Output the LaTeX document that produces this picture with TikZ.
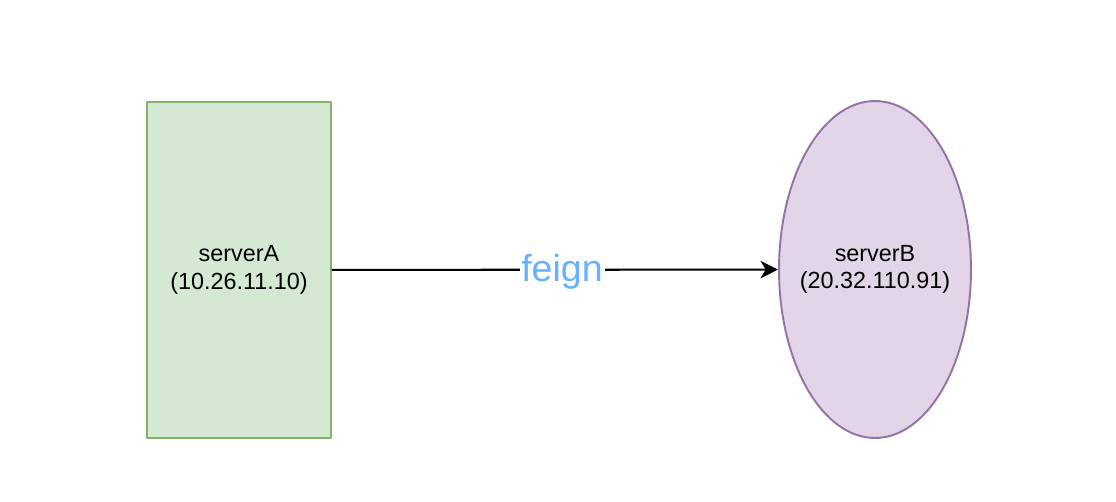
\documentclass[tikz,border=0pt]{standalone}
\usepackage{fontspec}
\setmainfont{Liberation Sans}
\usetikzlibrary{arrows.meta,shapes.geometric}

\definecolor{boxfill}{HTML}{D5E8D4}
\definecolor{boxline}{HTML}{82B366}
\definecolor{ovalfill}{HTML}{E1D5E7}
\definecolor{ovalline}{HTML}{9673A6}
\definecolor{calltext}{HTML}{66B2FF}

\begin{document}
\begin{tikzpicture}[
  x=0.02cm,
  y=-0.02cm,
  >=Latex,
  line join=round,
  font=\fontsize{13.3}{15.6}\selectfont,
  hostbox/.style={draw=boxline,fill=boxfill,line width=1.1pt,
    minimum width=3.68cm,minimum height=6.72cm,align=center,inner sep=0pt},
  hostoval/.style={ellipse,draw=ovalline,fill=ovalfill,line width=1.1pt,
    minimum width=3.84cm,minimum height=6.74cm,align=center,
    inner ysep=0pt,inner xsep=-6pt},
  calllabel/.style={fill=white,text=calltext,inner sep=1pt,
    font=\fontsize{21.4}{24}\selectfont}
]
  \useasboundingbox[fill=white] (0,0) rectangle (1116,502);

  \node[hostbox] (serverA) at (239,270) {serverA\\(10.26.11.10)};
  \node[hostoval] (serverB) at (875,269.5) {serverB\\(20.32.110.91)};

  \draw[-{Stealth[length=10pt,width=10pt,inset=3pt]},line width=1.2pt]
    (serverA) -- node[calllabel,xshift=4pt,yshift=-1pt] {feign} (serverB);
\end{tikzpicture}
\end{document}
